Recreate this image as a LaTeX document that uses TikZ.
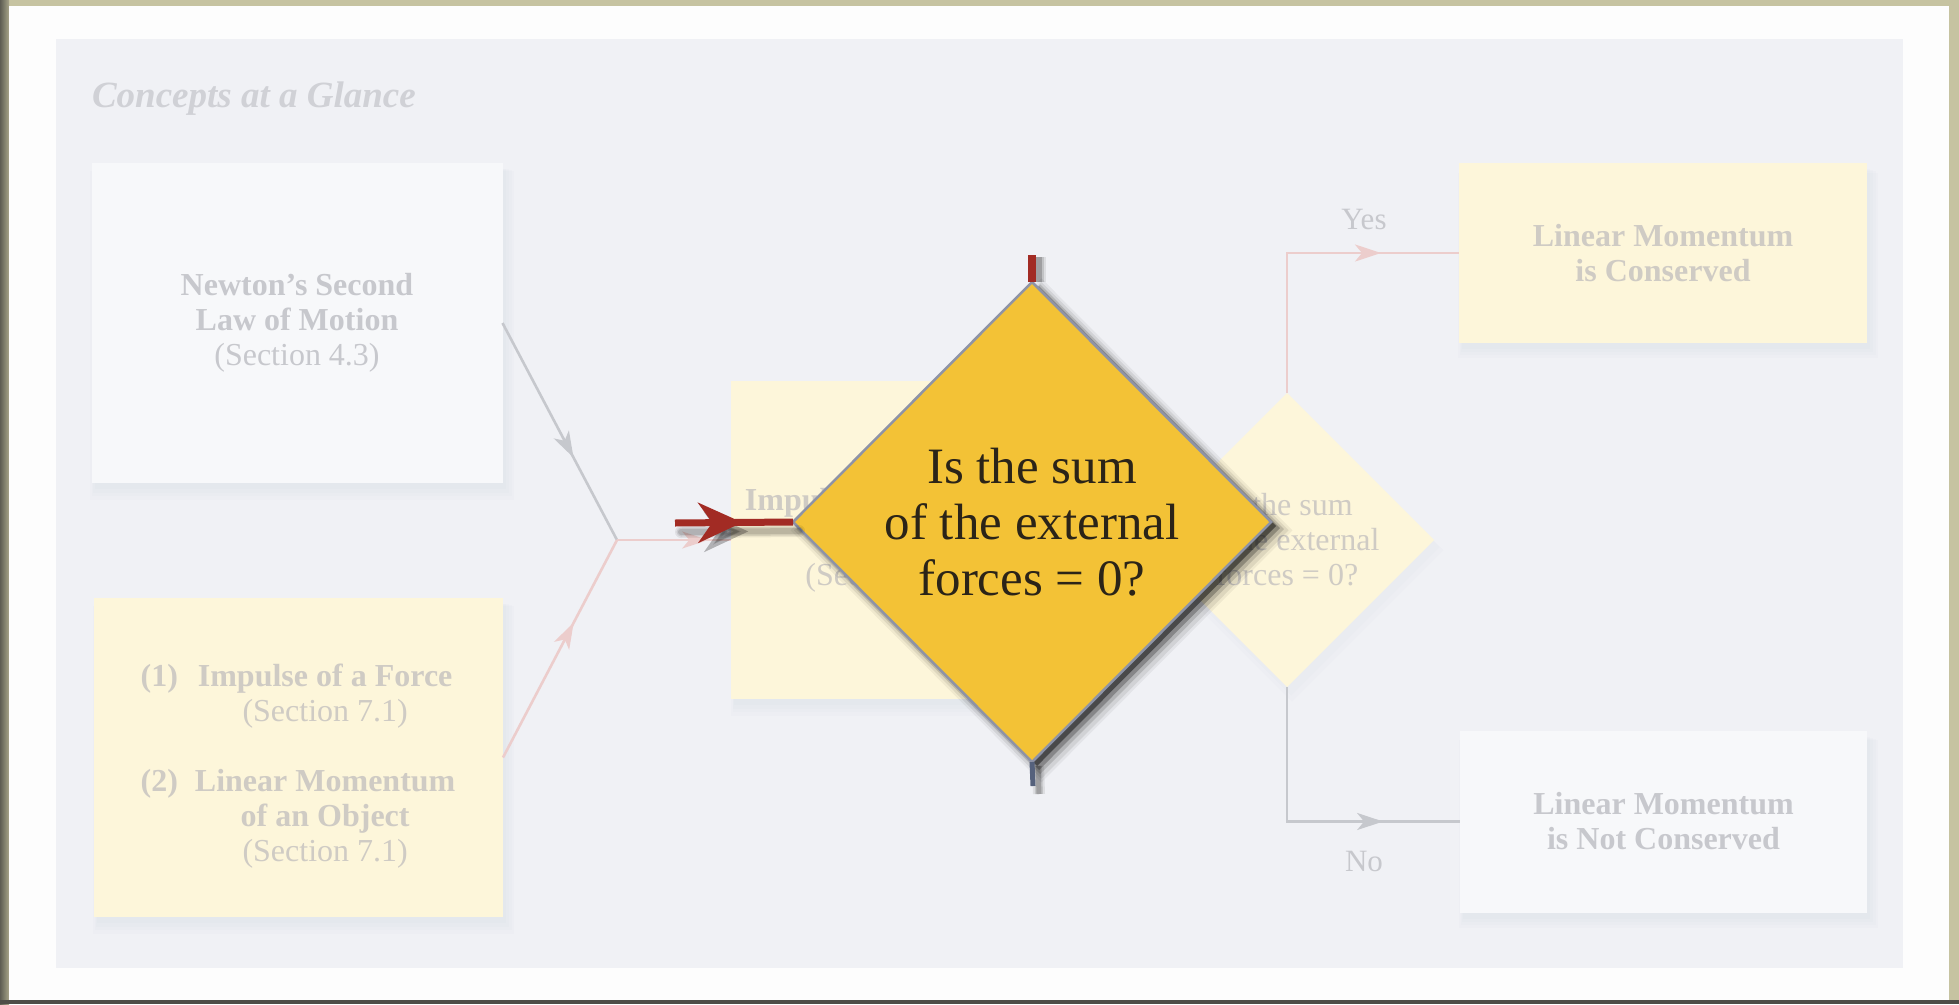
\documentclass[tikz,border=0pt]{standalone}
\usepackage{fontspec}
\setmainfont{Liberation Serif}
\usetikzlibrary{shapes.geometric,arrows.meta,decorations.markings,shadows}
\definecolor{khaki}{HTML}{C6C3A1}
\definecolor{leftdark}{HTML}{5E5D53}
\definecolor{botdark}{HTML}{4E4D47}
\definecolor{pagewhite}{HTML}{FDFDFD}
\definecolor{panel}{HTML}{F0F1F5}
\definecolor{boxwhite}{HTML}{F7F8FA}
\definecolor{boxyellow}{HTML}{FDF6DA}
\definecolor{fadetext}{HTML}{C7C8CD}
\definecolor{fadeytext}{HTML}{CFCBC4}
\definecolor{pinkline}{HTML}{ECCDCC}
\definecolor{greyline}{HTML}{C6C8CD}
\definecolor{gold}{HTML}{F3C236}
\definecolor{goldedge}{HTML}{8E93A6}
\definecolor{darkred}{HTML}{A22B24}
\definecolor{stubblue}{HTML}{55617C}
\definecolor{darktext}{HTML}{2B2418}
\definecolor{titlegrey}{HTML}{D0D1D6}
\definecolor{shadowblue}{HTML}{3A4670}
\tikzset{
  boxsh/.style={
    drop shadow={shadow xshift=5pt,shadow yshift=-12pt,shadow scale=1.03,opacity=0.012,fill=shadowblue},
    drop shadow={shadow xshift=5pt,shadow yshift=-10pt,shadow scale=1.02,opacity=0.012,fill=shadowblue},
    drop shadow={shadow xshift=4pt,shadow yshift=-8pt,shadow scale=1.01,opacity=0.012,fill=shadowblue},
    drop shadow={shadow xshift=3pt,shadow yshift=-6pt,opacity=0.012,fill=shadowblue}},
  conceptbox/.style={rectangle,inner sep=0pt,outer sep=0pt,align=center,boxsh,
    font=\fontsize{32}{35}\selectfont\bfseries},
  whitebox/.style={conceptbox,fill=boxwhite,text=fadetext},
  yellowbox/.style={conceptbox,fill=boxyellow,text=fadeytext},
  plaintext/.style={inner sep=0pt,outer sep=0pt,align=center},
  arrowmid/.style 2 args={postaction={decorate,decoration={markings,
      mark=at position #1 with {\arrow{Stealth[length=26pt,width=17pt,inset=7pt,color=#2]}}}}},
  pinkconn/.style={draw=pinkline,line width=2.6pt},
  greyconn/.style={draw=greyline,line width=2.6pt},
  bigdiamond/.style={diamond,inner sep=0pt,outer sep=0pt,minimum width=478pt,minimum height=480pt,
    fill=gold,draw=goldedge,line width=2.5pt,text=darktext,align=center,
    font=\fontsize{51}{56}\selectfont,
    drop shadow={shadow xshift=9pt,shadow yshift=-8pt,shadow scale=1.05,opacity=0.05,fill=black},
    drop shadow={shadow xshift=9pt,shadow yshift=-8pt,shadow scale=1.035,opacity=0.08,fill=black},
    drop shadow={shadow xshift=8pt,shadow yshift=-7pt,shadow scale=1.02,opacity=0.14,fill=black},
    drop shadow={shadow xshift=7pt,shadow yshift=-6pt,shadow scale=1.008,opacity=0.25,fill=black},
    drop shadow={shadow xshift=5pt,shadow yshift=-4pt,opacity=0.45,fill=black}},
  smalldiamond/.style={diamond,inner sep=0pt,outer sep=0pt,minimum width=294pt,minimum height=294pt,
    fill=boxyellow,text=fadeytext,align=center,font=\fontsize{32}{35}\selectfont,
    drop shadow={shadow xshift=5pt,shadow yshift=-10pt,shadow scale=1.03,opacity=0.012,fill=shadowblue},
    drop shadow={shadow xshift=4pt,shadow yshift=-7pt,shadow scale=1.01,opacity=0.012,fill=shadowblue}},
  redtip/.style={postaction={decorate,decoration={markings,
      mark=at position 0.57 with {\arrow{Stealth[length=44pt,width=40pt,inset=14pt,color=#1]}}}}},
}
\begin{document}
\begin{tikzpicture}[x=1pt,y=-1pt]
\useasboundingbox (0,0) rectangle (1959,1004);
% frame and page
\fill[khaki] (0,0) rectangle (1959,1004);
\shade[left color=leftdark,right color=khaki!70!leftdark] (0,0) rectangle (9,1004);
\fill[botdark] (0,1000) rectangle (1959,1004);
\fill[pagewhite] (9,6) rectangle (1949,1000);
\fill[panel] (56,39) rectangle (1903,968);

% title
\node[plaintext,anchor=base west,text=titlegrey,font=\fontsize{37}{40}\selectfont\bfseries\itshape]
  (title) at (92,107) {Concepts at a Glance};

% boxes
\node[whitebox,minimum width=411pt,minimum height=320pt] (b1) at (297,323)
  {Newton’s Second\\Law of Motion\\\mdseries(Section 4.3)};
\node[yellowbox,minimum width=409pt,minimum height=319pt] (b2) at (298.5,757.5) {};
\node[plaintext,text=fadeytext,font=\fontsize{32}{35}\selectfont\bfseries] (b2t) at (298,767)
  {\begin{tabular}{@{}r@{\hspace{17pt}}c@{}}
   (1) & Impulse of a Force\\
       & \mdseries(Section 7.1)\\[35pt]
   (2) & Linear Momentum\\
       & of an Object\\
       & \mdseries(Section 7.1)
   \end{tabular}};
\node[yellowbox,minimum width=314pt,minimum height=318pt,font=\fontsize{32}{37.5}\selectfont\bfseries] (b3) at (888,540)
  {Impulse–Momentum\\Theorem\\\mdseries(Section 7.1)};
\node[yellowbox,minimum width=408pt,minimum height=180pt] (b4) at (1663,253)
  {Linear Momentum\\is Conserved};
\node[whitebox,minimum width=407pt,minimum height=182pt] (b5) at (1663.5,821.5)
  {Linear Momentum\\is Not Conserved};

% left connectors
\coordinate (j) at (617,540);
\draw[greyconn,arrowmid={0.62}{greyline}] (b1.east) -- (j);
\draw[pinkconn,arrowmid={0.62}{pinkline}] (b2.east) -- (j);
\draw[pinkconn,arrowmid={0.8}{pinkline}] (j) -- (b3.west);

% small diamond and branches
\node[smalldiamond] (sd) at (1287,540) {Is the sum\\of the external\\forces = 0?};
\draw[pinkconn,arrowmid={0.75}{pinkline}] (sd.north) |- (b4.west);
\draw[greyconn,arrowmid={0.75}{greyline}] (sd.south) |- (b5.west);
\node[plaintext,text=fadetext,font=\fontsize{31}{35}\selectfont] (yes) at (1364,219) {Yes};
\node[plaintext,text=fadetext,font=\fontsize{31}{35}\selectfont] (no) at (1364,861) {No};

% big highlighted diamond
\node[bigdiamond] (bd) at (1032,522) {Is the sum\\of the external\\forces = 0?};

% stubs
\coordinate (st) at (1032,255);
\coordinate (sb) at (1033,786);
\foreach \w/\o in {14/0.08,10/0.12,6/0.18}
  \draw[black,opacity=\o,line width=\w pt] ([xshift=7pt,yshift=-2pt]st) -- ([xshift=7pt]bd.north);
\draw[darkred,line width=8pt] (st) -- (bd.north);
\foreach \w/\o in {12/0.08,8/0.12,5/0.18}
  \draw[black,opacity=\o,line width=\w pt] ([xshift=6pt,yshift=-4pt]bd.south) -- ([xshift=6pt,yshift=-8pt]sb);
\draw[stubblue,line width=5pt] (bd.south) -- (sb);

% red arrow with soft shadow
\coordinate (ra) at (675,523);
\foreach \s/\o in {12/0.07,9/0.09,6/0.12}
  \draw[black,opacity=\o,line width=\s pt,line cap=round,redtip=black]
    ([xshift=6pt,yshift=-9pt]ra) -- ([xshift=6pt,yshift=-9pt]bd.west);
\draw[darkred,line width=7pt,redtip=darkred] (ra) -- (bd.west);
\end{tikzpicture}
\end{document}
